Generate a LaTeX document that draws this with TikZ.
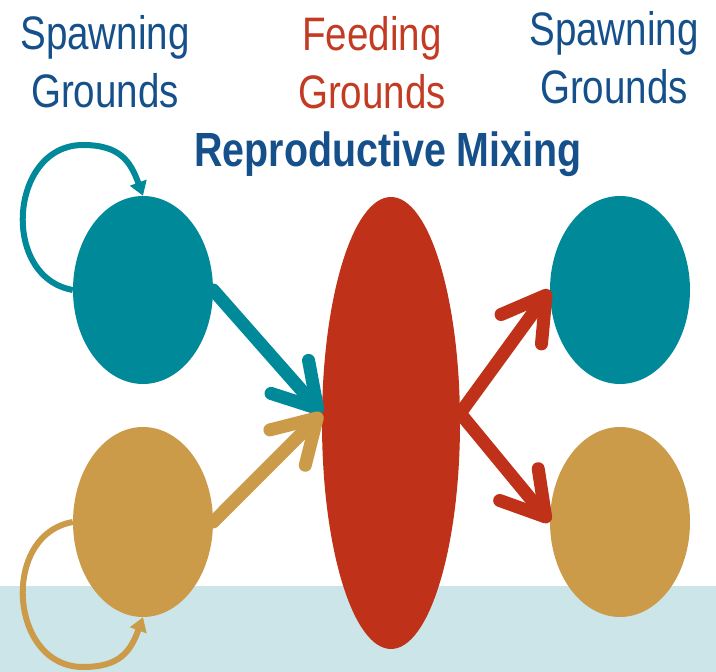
\documentclass[tikz,border=0pt]{standalone}
\usepackage{fontspec}
\setmainfont{Liberation Sans}[FakeStretch=0.82]
\usetikzlibrary{arrows.meta,shapes.geometric}
\definecolor{poolteal}{HTML}{008A99}
\definecolor{poolgold}{HTML}{CC9B4A}
\definecolor{feedred}{HTML}{BF3219}
\definecolor{titleblue}{HTML}{15508A}
\definecolor{feedtext}{HTML}{C23B22}
\definecolor{shallow}{HTML}{CCE5E8}

\begin{document}
\begin{tikzpicture}[
  x=1pt, y=1pt,
  pool/.style={ellipse, inner sep=0pt, minimum width=140pt, minimum height=188pt},
  feedpool/.style={ellipse, inner sep=0pt, minimum width=138pt,
                   minimum height=452pt, fill=feedred},
  heading/.style={inner sep=0pt, align=center, font=\fontsize{47}{58}\selectfont},
  flow/.style={line width=13pt, line cap=round,
               -{Straight Barb[length=42pt,width=50pt,round]}},
  homing/.style={line width=6pt, -{Triangle[length=14pt,width=17pt]}},
]
\useasboundingbox (0,0) rectangle (716,672);
\fill[shallow] (0,0) rectangle (716,86);

% --- Headings ---
\node[heading, text=titleblue] (spawnleft)  at (105,610)   {Spawning\\Grounds};
\node[heading, text=feedtext]  (feedhead)   at (372,609)   {Feeding\\Grounds};
\node[heading, text=titleblue] (spawnright) at (614,614.5) {Spawning\\Grounds};
\node[inner sep=0pt, anchor=base, text=titleblue,
      font=\fontsize{48}{58}\selectfont\bfseries] (mixing) at (388,505) {Reproductive Mixing};

% --- Pools ---
\node[pool, fill=poolteal] (tl) at (143,382) {};
\node[pool, fill=poolgold, minimum height=190pt] (gl) at (143,150) {};
\node[feedpool] (feed) at (391,249) {};
\node[pool, fill=poolteal] (tr) at (620,382) {};
\node[pool, fill=poolgold, minimum height=190pt] (gr) at (620,150) {};

% --- Migration to and from the feeding grounds ---
\draw[flow, poolteal] (tl.east)   -- (feed.172);
\draw[flow, poolgold] (gl.east)   -- (feed.172);
\draw[flow, feedred]  (feed.8) -- (tr.west);
\draw[flow, feedred]  (feed.8) -- (gr.west);

% --- Homing loops ---
\coordinate (tlloop) at (83,527);
\coordinate (glloop) at (83,5);
\draw[homing, poolteal] (tl.west) to[out=170, in=180, looseness=1.3] (tlloop)
                                  to[out=0, in=110, looseness=1.2] (tl.north);
\draw[homing, poolgold] (gl.west) to[out=190, in=180, looseness=1.3] (glloop)
                                  to[out=0, in=-110, looseness=1.2] (gl.south);
\end{tikzpicture}
\end{document}
